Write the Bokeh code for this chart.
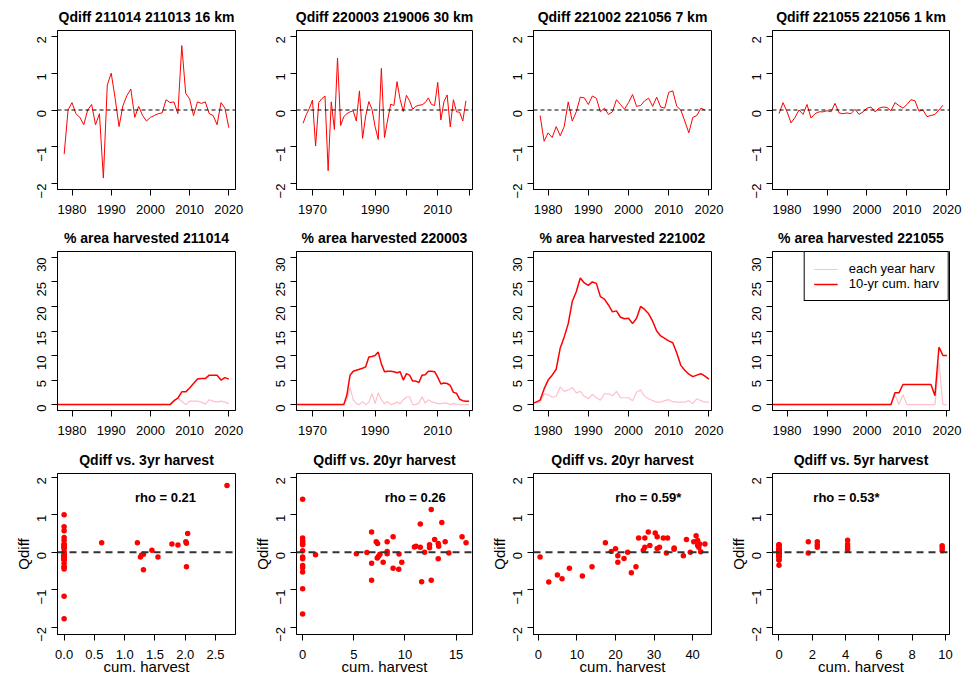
import math
from bokeh.plotting import figure
from bokeh.models import Span, FixedTicker, Label, Range1d, PrintfTickFormatter
from bokeh.layouts import column, row
from bokeh.embed import file_html
from bokeh.resources import INLINE

FONT = "Liberation Sans"

# ---------------- discharge differences (Qdiff) ----------------
years_211014 = list(range(1978, 2021))
qdiff_211014 = [-1.20, 0.00, 0.20, -0.10, -0.20, -0.40, 0.00, 0.15, -0.40, -0.10,
                -1.85, 0.68, 1.00, 0.32, -0.45, 0.12, 0.39, 0.57, -0.20, 0.10,
                -0.15, -0.30, -0.20, -0.15, -0.10, -0.08, 0.28, 0.20, 0.22, -0.10,
                1.75, 0.45, 0.30, -0.15, 0.22, 0.18, 0.22, -0.10, -0.15, -0.40,
                0.20, 0.05, -0.48]

years_220003 = list(range(1967, 2020))
qdiff_220003 = [-0.36, -0.13, 0.04, 0.27, -0.98, 0.20, 0.31, 0.38, -1.65, 0.22,
                -0.53, 1.41, -0.42, -0.18, -0.10, -0.05, -0.02, -0.30, 0.52, -0.77,
                -0.16, 0.23, 0.02, -0.45, -0.80, 1.13, -0.75, -0.27, 0.16, 0.12,
                0.77, 0.28, -0.04, 0.40, 0.25, 0.02, 0.10, 0.13, 0.14, 0.20,
                0.33, 0.15, 0.12, 0.75, -0.27, 0.23, 0.41, -0.46, 0.28, -0.05,
                -0.06, -0.30, 0.25]

years_221002 = list(range(1978, 2020))
qdiff_221002 = [-0.15, -0.85, -0.62, -0.75, -0.45, -0.70, -0.45, 0.22, -0.30, -0.05,
                0.35, 0.33, 0.15, 0.38, 0.32, -0.05, 0.05, -0.12, -0.05, 0.28,
                0.15, 0.02, 0.20, 0.42, 0.10, 0.12, 0.25, 0.32, 0.10, 0.35,
                0.08, 0.05, 0.48, 0.52, 0.10, 0.00, -0.30, -0.62, -0.20, -0.15,
                0.05, 0.00]

years_221055 = list(range(1978, 2020))
qdiff_221055 = [-0.10, 0.20, -0.05, -0.35, -0.20, 0.00, -0.12, 0.15, -0.22, -0.10,
                -0.05, -0.05, -0.02, -0.05, 0.18, -0.08, -0.10, -0.08, -0.10, 0.02,
                -0.12, -0.05, 0.05, 0.08, -0.05, 0.05, 0.08, 0.07, -0.02, 0.20,
                0.12, 0.05, 0.15, 0.28, 0.25, -0.03, 0.00, -0.18, -0.15, -0.12,
                0.00, 0.13]

# ---------------- % area harvested ----------------
harv_years_211014 = list(range(1975, 2021))
harv_each_211014 = [0.0, 0.0, 0.0, 0.0, 0.0, 0.0, 0.0, 0.0, 0.0, 0.0, 0.0, 0.0, 0.0, 0.0,
                    0.0, 0.0, 0.0, 0.0, 0.0, 0.0, 0.0, 0.0, 0.0, 0.0, 0.0, 0.0, 0.0, 0.0,
                    0.0, 0.0, 0.0, 0.6, 1.4, 0.7, 0.0, 0.7, 0.7, 0.7, 0.5, 0.1, 1.0, 0.7,
                    0.5, 0.7, 0.5, 0.2]
harv_cum_211014 = [0.0, 0.0, 0.0, 0.0, 0.0, 0.0, 0.0, 0.0, 0.0, 0.0, 0.0, 0.0, 0.0, 0.0,
                   0.0, 0.0, 0.0, 0.0, 0.0, 0.0, 0.0, 0.0, 0.0, 0.0, 0.0, 0.0, 0.0, 0.0,
                   0.0, 0.0, 0.0, 0.8, 1.3, 2.6, 2.6, 3.4, 4.3, 5.2, 5.3, 5.3, 6.0, 6.0,
                   6.0, 5.0, 5.5, 5.2]

harv_years_220003 = list(range(1963, 2021))
harv_each_220003 = [0.0, 0.0, 0.0, 0.0, 0.0, 0.0, 0.0, 0.0, 0.0, 0.0, 0.0, 0.0, 0.0, 0.0,
                    0.0, 0.0, 0.0, 0.0, 1.0, 3.5, 1.0, 0.2, 0.0, 0.6, 0.0, 0.5, 2.2, 0.2,
                    2.4, 1.0, 0.2, 0.6, 0.0, 0.2, 0.5, 0.2, 1.0, 1.5, 1.6, 0.0, 0.0, 0.3,
                    1.6, 0.3, 1.0, 0.6, 0.4, 0.2, 0.2, 0.3, 0.3, 0.0, 0.2, 0.1, 0.0, 0.0,
                    0.0, 0.0]
harv_cum_220003 = [0.0, 0.0, 0.0, 0.0, 0.0, 0.0, 0.0, 0.0, 0.0, 0.0, 0.0, 0.0, 0.0, 0.0,
                   0.0, 0.0, 0.0, 0.0, 2.0, 6.0, 6.8, 7.0, 7.2, 7.4, 7.7, 9.7, 9.8, 10.0,
                   10.7, 8.3, 6.7, 6.8, 6.8, 6.7, 6.5, 6.7, 5.0, 6.3, 6.0, 4.8, 4.8, 4.5,
                   6.0, 6.1, 6.8, 6.8, 6.7, 5.6, 4.2, 4.4, 4.3, 3.9, 2.5, 2.3, 1.1, 0.8,
                   0.7, 0.7]

harv_years_221002 = list(range(1975, 2021))
harv_each_221002 = [0.0, 0.3, 0.5, 0.5, 2.2, 2.0, 1.5, 1.7, 3.6, 2.7, 3.0, 3.5, 2.4, 2.7,
                    1.7, 1.2, 2.1, 1.4, 0.9, 2.2, 2.2, 1.8, 2.7, 1.4, 1.4, 1.4, 0.8, 2.5,
                    3.0, 1.7, 1.2, 0.8, 0.5, 0.5, 0.8, 1.0, 0.6, 0.5, 0.5, 0.5, 0.8, 0.2,
                    1.2, 0.8, 0.5, 0.5]
harv_cum_221002 = [0.0, 0.2, 0.5, 0.9, 3.2, 5.0, 6.0, 7.2, 11.5, 13.8, 16.5, 21.0, 23.0,
                   25.8, 24.8, 24.3, 25.0, 24.7, 22.0, 21.5, 20.3, 18.9, 19.1, 17.8, 17.5,
                   17.6, 16.5, 17.6, 20.0, 19.4, 18.5, 17.0, 15.0, 14.0, 13.5, 13.0, 12.6,
                   10.5, 8.0, 7.0, 6.2, 5.7, 6.0, 6.3, 5.8, 5.2]

harv_years_221055 = list(range(1975, 2021))
harv_each_221055 = [0.0, 0.0, 0.0, 0.0, 0.0, 0.0, 0.0, 0.0, 0.0, 0.0, 0.0, 0.0, 0.0, 0.0,
                    0.0, 0.0, 0.0, 0.0, 0.0, 0.0, 0.0, 0.0, 0.0, 0.0, 0.0, 0.0, 0.0, 0.0,
                    0.0, 0.0, 0.0, 0.0, 2.0, 0.0, 2.0, 0.0, 0.0, 0.0, 0.0, 0.0, 0.0, 0.0,
                    0.0, 8.5, 0.0, 0.0]
harv_cum_221055 = [0.0, 0.0, 0.0, 0.0, 0.0, 0.0, 0.0, 0.0, 0.0, 0.0, 0.0, 0.0, 0.0, 0.0,
                   0.0, 0.0, 0.0, 0.0, 0.0, 0.0, 0.0, 0.0, 0.0, 0.0, 0.0, 0.0, 0.0, 0.0,
                   0.0, 0.0, 0.0, 0.0, 2.4, 2.4, 4.1, 4.1, 4.1, 4.1, 4.1, 4.1, 4.1, 4.1,
                   1.8, 11.7, 10.0, 10.0]

# ---------------- Qdiff vs. cumulative harvest ----------------
cum3_211014 = [0.0, 0.0, 0.0, 0.0, 0.0, 0.0, 0.0, 0.0, 0.0, 0.0, 0.0, 0.0, 0.0, 0.0,
               0.0, 0.0, 0.0, 0.0, 0.0, 0.0, 0.0, 0.0, 0.0, 0.0, 0.0, 0.0, 0.0, 0.0,
               0.62, 1.21, 1.26, 1.28, 1.31, 1.31, 1.45, 1.55, 1.78, 1.88, 2.01, 2.02,
               2.02, 2.04, 2.69]
q_vs3_211014 = [-1.18, 0.00, 0.20, -0.10, -0.20, -0.40, 0.00, 0.15, -0.40, -0.10,
                -1.78, 0.68, 1.00, 0.32, -0.45, 0.12, 0.39, 0.57, -0.20, 0.10,
                -0.15, -0.30, -0.20, -0.15, -0.10, -0.08, 0.18, 0.22,
                0.25, 0.25, -0.13, -0.08, -0.06, -0.47, 0.05, -0.13, 0.22, 0.19,
                0.28, 0.24, -0.39, 0.50, 1.78]

cum20_220003 = [0.0, 0.0, 0.0, 0.0, 0.0, 0.0, 0.0, 0.0, 0.0, 0.0, 0.0, 0.0, 0.0, 0.0,
                1.26, 5.25, 6.28, 6.74, 6.74, 6.74, 7.19, 7.32, 7.29, 7.42, 7.55, 7.87,
                8.26, 8.26, 8.26, 8.84, 8.84, 9.39, 9.42, 9.69, 10.92, 11.08, 11.5, 11.5,
                11.63, 11.92, 12.4, 12.4, 12.57, 12.57, 12.9, 13.25, 13.3, 13.25, 13.6,
                13.93, 14.29, 15.58, 15.97]
q_vs20_220003 = [-0.36, -0.13, 0.04, 0.27, -0.98, 0.20, 0.31, 0.38, -1.65, 0.22,
                 -0.53, 1.41, -0.42, -0.18,
                 -0.07, -0.04, -0.01, 0.54, -0.30, -0.75, 0.28, 0.23, -0.16, -0.11,
                 -0.06, -0.27, 0.28, 0.02, -0.04, 0.41, -0.43, -0.46, -0.05, -0.27,
                 0.14, 0.16, 0.75, 0.13, -0.79, 0.00, 0.20, 0.12, 1.14, -0.75,
                 0.34, 0.23, 0.16, -0.18, 0.79, 0.28, -0.02, 0.41, 0.25]

cum20_221002 = [0.43, 2.68, 4.92, 6.13, 8.03, 11.4, 13.9, 17.37, 18.9, 20.0,
                20.6, 20.6, 22.2, 23.15, 24.1, 25.3, 26.0, 27.2, 27.6, 27.6,
                28.5, 28.9, 30.3, 30.8, 30.8, 31.4, 32.4, 33.5, 33.2, 35.2,
                35.2, 37.6, 38.4, 39.4, 40.3, 40.9, 41.3, 41.3, 41.6, 41.8,
                42.1, 43.2]
q_vs20_221002 = [-0.13, -0.80, -0.61, -0.71, -0.43, -0.64, -0.39, 0.25, 0.02, 0.09,
                 -0.10, -0.27, -0.17, 0.00, -0.55, -0.39, 0.38, 0.05, 0.38, 0.13,
                 0.54, 0.18, 0.51, 0.41, 0.10, 0.13, 0.38, 0.38, -0.02, 0.11,
                 0.08, -0.10, 0.34, 0.00, 0.28, 0.44, 0.31, 0.18, 0.13, 0.22,
                 0.01, 0.22]

cum5_221055 = [0.0, 0.0, 0.0, 0.0, 0.0, 0.0, 0.0, 0.0, 0.0, 0.0, 0.0, 0.0, 0.0, 0.0, 0.0,
               0.0, 0.0, 0.0, 0.0, 0.0, 0.0, 0.0, 0.0, 0.0, 0.0, 0.0, 0.0, 0.0, 0.0, 0.0,
               1.76, 1.76, 2.3, 2.3, 2.3, 4.12, 4.12, 4.12, 4.12, 9.8, 9.8, 9.8]
q_vs5_221055 = [-0.10, 0.20, -0.05, -0.35, -0.20, 0.00, -0.12, 0.15, -0.22, -0.10,
                -0.05, -0.05, -0.02, -0.05, 0.18, -0.08, -0.10, -0.08, -0.10, 0.02,
                -0.12, -0.05, 0.05, 0.08, -0.05, 0.05, 0.08, 0.07, -0.02, 0.20,
                0.28, -0.02, 0.28, 0.20, 0.13, 0.32, 0.21, 0.14, 0.07, 0.17, 0.11, 0.04]

qdiff_titles = ["Qdiff 211014 211013 16 km", "Qdiff 220003 219006 30 km",
                "Qdiff 221002 221056 7 km", "Qdiff 221055 221056 1 km"]
harv_titles = ["% area harvested 211014", "% area harvested 220003",
               "% area harvested 221002", "% area harvested 221055"]
scatter_titles = ["Qdiff vs. 3yr harvest", "Qdiff vs. 20yr harvest",
                  "Qdiff vs. 20yr harvest", "Qdiff vs. 5yr harvest"]
rho_texts = ["rho = 0.21", "rho = 0.26", "rho = 0.59*", "rho = 0.53*"]
legend_labels = ["each year harv", "10-yr cum. harv"]

# ---------------- layout geometry ----------------
col_w = [248, 238, 239, 237]
col_left = [57, 48, 47, 47]
frame_w = [178, 176, 178, 177]
row_h = [222, 222, 234]
row_top = [30, 29, 29]
frame_h = [159, 159, 161]

year_ranges = [(1976.3, 2021.7), (1964.9, 2021.1), (1976.36, 2020.64), (1976.36, 2020.64)]
year_ticks = [[1980, 1990, 2000, 2010, 2020], [1970, 1980, 1990, 2000, 2010, 2020],
              [1980, 1990, 2000, 2010, 2020], [1980, 1990, 2000, 2010, 2020]]
year_hidden = [[], [1980, 2000, 2020], [], []]
cum_ranges = [(-0.109, 2.83), (-0.6, 16.6), (-1.28, 44.9), (-0.39, 10.24)]
cum_ticks = [[0, 0.5, 1.0, 1.5, 2.0, 2.5], [0, 5, 10, 15], [0, 10, 20, 30, 40],
             [0, 2, 4, 6, 8, 10]]
rho_pos = [(1.675, 1.45), (11.0, 1.45), (28.5, 1.45), (4.05, 1.45)]


def make_fig(r, c, xr, yr, title):
    w, h = col_w[c], row_h[r]
    left, top = col_left[c], row_top[r]
    right = w - left - frame_w[c]
    bottom = h - top - frame_h[r]
    p = figure(width=w, height=h, x_range=Range1d(*xr), y_range=Range1d(*yr),
               output_backend="svg", toolbar_location=None,
               min_border_left=left, min_border_right=right,
               min_border_top=top, min_border_bottom=bottom)
    p.title.text = title
    p.title.align = "center"
    p.title.text_font = FONT
    p.title.text_font_size = "14px"
    p.title.text_font_style = "bold"
    p.title.text_color = "black"
    p.title.standoff = 11
    p.grid.visible = False
    p.outline_line_color = "black"
    p.outline_line_alpha = 1.0
    p.outline_line_width = 1
    p.background_fill_color = "white"
    p.border_fill_color = "white"
    for ax in (p.xaxis[0], p.yaxis[0]):
        ax.axis_line_color = "black"
        ax.major_tick_line_color = "black"
        ax.minor_tick_line_color = None
        ax.major_tick_out = 6
        ax.major_tick_in = 0
        ax.major_label_text_font = FONT
        ax.major_label_text_font_size = "13px"
        ax.major_label_text_color = "black"
    p.xaxis.major_label_standoff = 9
    p.yaxis.major_label_standoff = 10
    p.yaxis.major_label_orientation = math.pi / 2
    return p


def zero_line(p, width, dash, color):
    p.add_layout(Span(location=0, dimension="width", line_color=color,
                      line_width=width, line_dash=dash))


qdiff_series = [(years_211014, qdiff_211014), (years_220003, qdiff_220003),
                (years_221002, qdiff_221002), (years_221055, qdiff_221055)]
harv_series = [(harv_years_211014, harv_each_211014, harv_cum_211014),
               (harv_years_220003, harv_each_220003, harv_cum_220003),
               (harv_years_221002, harv_each_221002, harv_cum_221002),
               (harv_years_221055, harv_each_221055, harv_cum_221055)]
scatter_series = [(cum3_211014, q_vs3_211014), (cum20_220003, q_vs20_220003),
                  (cum20_221002, q_vs20_221002), (cum5_221055, q_vs5_221055)]

rows = []

# row 1: Qdiff time series
figs = []
for c in range(4):
    p = make_fig(0, c, year_ranges[c], (-2.16, 2.16), qdiff_titles[c])
    yrs, vals = qdiff_series[c]
    p.line(yrs, vals, line_color="red", line_width=1)
    zero_line(p, 1, "4 3", "black")
    p.yaxis.ticker = FixedTicker(ticks=[-2, -1, 0, 1, 2])
    p.xaxis.ticker = FixedTicker(ticks=year_ticks[c])
    p.xaxis.major_label_overrides = {t: "" for t in year_hidden[c]}
    figs.append(p)
rows.append(row(*figs))

# row 2: % area harvested
figs = []
for c in range(4):
    p = make_fig(1, c, year_ranges[c], (-1.2, 31.2), harv_titles[c])
    yrs, each, cum = harv_series[c]
    if c == 3:
        p.line(yrs, each, line_color="pink", line_width=1.2, legend_label=legend_labels[0])
        p.line(yrs, cum, line_color="red", line_width=1.5, legend_label=legend_labels[1])
        lg = p.legend[0]
        lg.location = "top_right"
        lg.margin = 0
        lg.padding = 9
        lg.spacing = 0
        lg.glyph_width = 24
        lg.glyph_height = 14
        lg.label_height = 14
        lg.label_standoff = 11
        lg.label_text_font = FONT
        lg.label_text_font_size = "13px"
        lg.label_text_color = "black"
        lg.border_line_color = "black"
        lg.border_line_width = 1
        lg.border_line_alpha = 1.0
        lg.background_fill_color = "white"
        lg.background_fill_alpha = 1.0
    else:
        p.line(yrs, each, line_color="pink", line_width=1.2)
        p.line(yrs, cum, line_color="red", line_width=1.5)
    p.yaxis.ticker = FixedTicker(ticks=[0, 5, 10, 15, 20, 25, 30])
    p.xaxis.ticker = FixedTicker(ticks=year_ticks[c])
    p.xaxis.major_label_overrides = {t: "" for t in year_hidden[c]}
    figs.append(p)
rows.append(row(*figs))

# row 3: Qdiff against cumulative harvest
figs = []
for c in range(4):
    p = make_fig(2, c, cum_ranges[c], (-2.2, 2.1), scatter_titles[c])
    xs, ys = scatter_series[c]
    zero_line(p, 2, "7 5", "#333333")
    p.scatter(xs, ys, size=5.5, color="red", line_width=0)
    rx, ry = rho_pos[c]
    p.add_layout(Label(x=rx, y=ry, text=rho_texts[c], text_align="center",
                       text_baseline="middle", text_font=FONT, text_font_size="13px",
                       text_font_style="bold", text_color="black"))
    p.yaxis.ticker = FixedTicker(ticks=[-2, -1, 0, 1, 2])
    p.xaxis.ticker = FixedTicker(ticks=cum_ticks[c])
    if c == 0:
        p.xaxis.formatter = PrintfTickFormatter(format="%.1f")
    p.xaxis.axis_label = "cum. harvest"
    p.yaxis.axis_label = "Qdiff"
    for ax in (p.xaxis[0], p.yaxis[0]):
        ax.axis_label_text_font = FONT
        ax.axis_label_text_font_size = "15px"
        ax.axis_label_text_font_style = "normal"
        ax.axis_label_text_color = "black"
    p.xaxis.axis_label_standoff = -4
    p.yaxis.axis_label_standoff = -2
    figs.append(p)
rows.append(row(*figs))

layout = column(*rows)
open("out.html", "w").write(file_html(layout, INLINE))
